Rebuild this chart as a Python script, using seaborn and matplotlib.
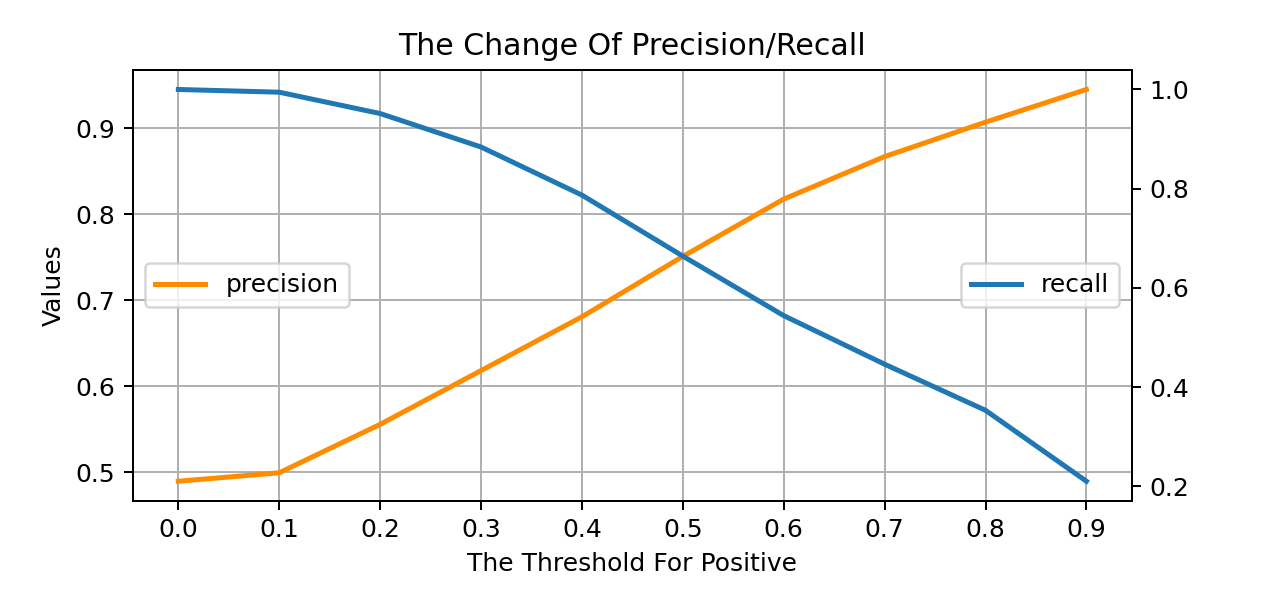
import pandas as pd
import matplotlib
import matplotlib.pyplot as plt
import seaborn as sns
matplotlib.use('Agg')

thresholds = [0.0, 0.1, 0.2, 0.3, 0.4, 0.5, 0.6, 0.7, 0.8, 0.9]
precision = [0.4897, 0.4995, 0.5558, 0.6183, 0.6808, 0.7510, 0.8176, 0.8670, 0.9070, 0.9450]
recall = [1.0000, 0.9945, 0.9515, 0.8840, 0.7870, 0.6640, 0.5440, 0.4460, 0.3530, 0.2100]
xtick_labels = ['0.0', '0.1', '0.2', '0.3', '0.4', '0.5', '0.6', '0.7', '0.8', '0.9']

df = pd.DataFrame({'threshold': thresholds, 'precision': precision, 'recall': recall})

fig, ax = plt.subplots(figsize=(1266 / 180, 613 / 180), dpi=180)
fig.subplots_adjust(left=0.105, right=0.894, top=0.886, bottom=0.183)

sns.lineplot(data=df, x='threshold', y='precision', ax=ax, color='darkorange',
             linewidth=2, label='precision')
ax.grid(True, color='#b0b0b0', linewidth=0.8)
ax.set_xticks(thresholds)
ax.set_xticklabels(xtick_labels)
ax.set_xlabel('The Threshold For Positive')
ax.set_ylabel('Values')
ax.set_title('The Change Of Precision/Recall')
ax.legend(loc='center left')

ax2 = ax.twinx()
sns.lineplot(data=df, x='threshold', y='recall', ax=ax2, color='#1f77b4',
             linewidth=2, label='recall')
ax2.set_ylabel('')
ax2.legend(loc='center right')

fig.savefig('out.png', dpi=180)
